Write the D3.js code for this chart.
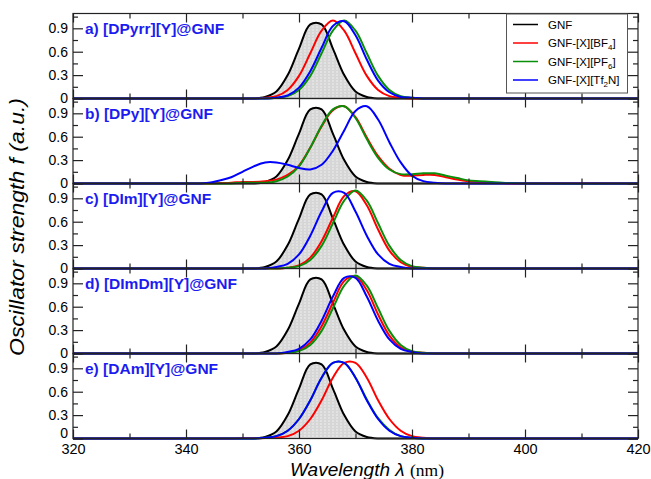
<!DOCTYPE html>
<html>
<head>
<meta charset="utf-8">
<script src="https://cdn.jsdelivr.net/npm/d3@7"></script>
<style>
body { margin: 0; background: #fff; }
text { font-family: "Liberation Sans", Arial, sans-serif; }
</style>
</head>
<body>
<div id="chart"></div>
<script>
// wavelength grid (nm) shared by all curves
var wavelength = [320, 340, 342, 344, 346, 348, 350, 352,
  354, 356, 358, 360, 362, 364, 366, 368, 370, 372, 374, 376, 378, 380,
  382, 384, 386, 388, 390, 392, 394, 396, 398, 400, 420]

var panelLabels = ['a) [DPyrr][Y]@GNF', 'b) [DPy][Y]@GNF', 'c) [DIm][Y]@GNF',
  'd) [DImDm][Y]@GNF', 'e) [DAm][Y]@GNF']
var yTicks = [0, 0.3, 0.6, 0.9]
var xTicks = [320, 340, 360, 380, 400, 420]

// pristine GNF, same in every panel
var gnf = [0, 0, 0, 0, 0, 0, 0, 0,
  .02, .09, .30, .64, .95, .95, .64, .30, .09, .02, 0, 0, 0, 0,
  0, 0, 0, 0, 0, 0, 0, 0, 0, 0, 0]

// a) [DPyrr][Y]@GNF
var bf4_a = [0, 0, 0, 0, 0, 0, 0, 0,
  .01, .03, .11, .29, .58, .87, 1.0, .87, .58, .29, .11, .03, .01, 0,
  0, 0, 0, 0, 0, 0, 0, 0, 0, 0, 0]
var pf6_a = [0, 0, 0, 0, 0, 0, 0, 0,
  0, .01, .03, .11, .29, .58, .87, 1.0, .87, .58, .29, .11, .03, .01,
  0, 0, 0, 0, 0, 0, 0, 0, 0, 0, 0]
var tf2n_a = [0, 0, 0, 0, 0, 0, 0, 0,
  0, .01, .04, .14, .35, .65, .93, .99, .81, .50, .23, .08, .02, .01,
  0, 0, 0, 0, 0, 0, 0, 0, 0, 0, 0]

// b) [DPy][Y]@GNF
var bf4_b = [0, 0, 0, 0, .005, .01, .02, .02,
  .03, .05, .11, .23, .46, .73, .94, .99, .85, .59, .35, .19, .11, .10,
  .11, .11, .08, .05, .03, .02, .01, .005, 0, 0, 0]
var pf6_b = [0, 0, 0, 0, 0, 0, .01, .01,
  .01, .03, .09, .22, .46, .74, .95, .99, .84, .57, .33, .18, .12, .12,
  .13, .13, .10, .07, .04, .03, .02, .01, .005, 0, 0]
var tf2n_b = [0, 0, 0, .01, .04, .08, .15, .22,
  .27, .27, .24, .20, .18, .24, .42, .68, .93, .99, .82, .53, .27, .10,
  .03, .01, 0, 0, 0, 0, 0, 0, 0, 0, 0]

// c) [DIm][Y]@GNF
var bf4_c = [0, 0, 0, 0, 0, 0, 0, 0,
  0, 0, .01, .04, .14, .35, .65, .93, .99, .81, .50, .23, .08, .02,
  .01, 0, 0, 0, 0, 0, 0, 0, 0, 0, 0]
var pf6_c = [0, 0, 0, 0, 0, 0, 0, 0,
  0, 0, .01, .03, .11, .29, .58, .87, 1.0, .87, .58, .29, .11, .03,
  .01, 0, 0, 0, 0, 0, 0, 0, 0, 0, 0]
var tf2n_c = [0, 0, 0, 0, 0, 0, 0, 0,
  0, .02, .06, .18, .42, .73, .97, .97, .73, .42, .18, .06, .02, 0,
  0, 0, 0, 0, 0, 0, 0, 0, 0, 0, 0]

// d) [DImDm][Y]@GNF
var bf4_d = [0, 0, 0, 0, 0, 0, 0, 0,
  0, 0, .01, .04, .14, .35, .65, .93, .99, .81, .50, .23, .08, .02,
  .01, 0, 0, 0, 0, 0, 0, 0, 0, 0, 0]
var pf6_d = [0, 0, 0, 0, 0, 0, 0, 0,
  0, 0, .01, .03, .11, .29, .58, .87, 1.0, .87, .58, .29, .11, .03,
  .01, 0, 0, 0, 0, 0, 0, 0, 0, 0, 0]
var tf2n_d = [0, 0, 0, 0, 0, 0, 0, 0,
  0, 0, .02, .06, .18, .42, .73, .97, .97, .73, .42, .18, .06, .02,
  0, 0, 0, 0, 0, 0, 0, 0, 0, 0, 0]

// e) [DAm][Y]@GNF
var bf4_e = [0, 0, 0, 0, 0, 0, .005, .005,
  .005, .01, .03, .10, .25, .49, .78, .97, .97, .78, .49, .25, .10, .03,
  .01, 0, 0, 0, 0, 0, 0, 0, 0, 0, 0]
var pf6_e = [0, 0, 0, 0, 0, 0, 0, 0,
  .01, .03, .10, .25, .49, .78, .97, .97, .78, .50, .26, .11, .03, .01,
  0, 0, 0, 0, 0, 0, 0, 0, 0, 0, 0]
var tf2n_e = [0, 0, 0, 0, 0, 0, 0, 0,
  .01, .03, .10, .25, .49, .78, .97, .97, .78, .49, .25, .10, .03, .01,
  0, 0, 0, 0, 0, 0, 0, 0, 0, 0, 0]

var panels = [
  [bf4_a, pf6_a, tf2n_a],
  [bf4_b, pf6_b, tf2n_b],
  [bf4_c, pf6_c, tf2n_c],
  [bf4_d, pf6_d, tf2n_d],
  [bf4_e, pf6_e, tf2n_e]
]
var colors = ['#ff0000', '#0a8f0a', '#0000ff']

var width = 651, height = 479
var left = 73, right = 638, top0 = 13.5, panelH = 85

var x = d3.scaleLinear().domain([320, 420]).range([left, right])
var y = d3.scaleLinear().domain([0, 1.09]).range([panelH, 0])

var svg = d3.select('#chart').append('svg')
  .attr('width', width)
  .attr('height', height)

// grey dotted fill under the GNF curve
var pat = svg.append('defs').append('pattern')
  .attr('id', 'greyfill')
  .attr('patternUnits', 'userSpaceOnUse')
  .attr('width', 4).attr('height', 3)
pat.append('rect').attr('width', 4).attr('height', 3).attr('fill', '#d6d6d6')
pat.append('rect').attr('y', 1).attr('width', 2).attr('height', 1).attr('fill', '#ededed')

svg.select('defs').append('clipPath').attr('id', 'clip')
  .append('rect')
  .attr('x', left).attr('y', -2)
  .attr('width', right - left).attr('height', panelH + 4)

var line = d3.line()
  .x(function(d, i) { return x(wavelength[i]) })
  .y(function(d) { return y(d) })
  .curve(d3.curveCatmullRom)

var area = d3.area()
  .x(function(d, i) { return x(wavelength[i]) })
  .y0(y(0))
  .y1(function(d) { return y(d) })
  .curve(d3.curveCatmullRom)

panels.forEach(function(series, k) {
  var g = svg.append('g').attr('transform', 'translate(0,' + (top0 + k * panelH) + ')')
  var plot = g.append('g').attr('clip-path', 'url(#clip)')

  plot.append('path').datum(gnf)
    .attr('d', area)
    .attr('fill', 'url(#greyfill)')
  plot.append('path').datum(gnf)
    .attr('d', line)
    .attr('fill', 'none')
    .attr('stroke', '#000')
    .attr('stroke-width', 2)

  series.forEach(function(s, j) {
    plot.append('path').datum(s)
      .attr('d', line)
      .attr('fill', 'none')
      .attr('stroke', colors[j])
      .attr('stroke-width', 2)
  })

  // frame
  g.append('rect')
    .attr('x', left).attr('y', 0)
    .attr('width', right - left).attr('height', panelH)
    .attr('fill', 'none')
    .attr('stroke', '#222')
    .attr('stroke-width', 1.2)

  // y axes, ticks pointing inwards
  var yl = g.append('g').attr('transform', 'translate(' + left + ',0)')
    .call(d3.axisLeft(y).tickValues(yTicks).tickSize(-10).tickPadding(5)
      .tickFormat(function(d) { return d === 0 ? '0' : d3.format('.1f')(d) }))
  yl.selectAll('text').style('font-size', '14px').attr('fill', '#000')
  if (k === 4) {
    yl.selectAll('text').filter(function(d) { return d === 0 }).attr('dy', '-0.05em')
  }
  g.append('g').attr('transform', 'translate(' + left + ',0)')
    .call(d3.axisLeft(y).tickValues([0.15, 0.45, 0.75, 1.05]).tickSize(-5).tickFormat(''))
  g.append('g').attr('transform', 'translate(' + right + ',0)')
    .call(d3.axisRight(y).tickValues(yTicks).tickSize(-10).tickFormat(''))
  g.append('g').attr('transform', 'translate(' + right + ',0)')
    .call(d3.axisRight(y).tickValues([0.15, 0.45, 0.75, 1.05]).tickSize(-5).tickFormat(''))

  // x axes top and bottom
  var xb = g.append('g').attr('transform', 'translate(0,' + panelH + ')')
    .call(d3.axisBottom(x).tickValues(xTicks).tickSize(-9).tickPadding(5)
      .tickFormat(k === 4 ? d3.format('d') : ''))
  xb.selectAll('text').style('font-size', '14.5px').attr('fill', '#000')
  g.append('g').attr('transform', 'translate(0,' + panelH + ')')
    .call(d3.axisBottom(x).tickValues([330, 350, 370, 390, 410]).tickSize(-5).tickFormat(''))
  g.append('g')
    .call(d3.axisTop(x).tickValues(xTicks).tickSize(-9).tickFormat(''))
  g.append('g')
    .call(d3.axisTop(x).tickValues([330, 350, 370, 390, 410]).tickSize(-5).tickFormat(''))

  g.append('text')
    .attr('x', 85).attr('y', y(0.9) + 5.5)
    .attr('fill', '#1c1cf0')
    .style('font-size', '15.5px')
    .style('font-weight', 'bold')
    .text(panelLabels[k])
})

svg.selectAll('.domain').remove()
svg.selectAll('.tick line').attr('stroke', '#222').attr('stroke-width', 1.2)

// legend
var legendItems = [
  { c: '#000', parts: [['GNF', 0]] },
  { c: colors[0], parts: [['GNF-[X][BF', 0], ['4', 1], [']', 0]] },
  { c: colors[1], parts: [['GNF-[X][PF', 0], ['6', 1], [']', 0]] },
  { c: colors[2], parts: [['GNF-[X][Tf', 0], ['2', 1], ['N]', 0]] }
]
var lg = svg.append('g')
lg.append('rect')
  .attr('x', 506.5).attr('y', 14)
  .attr('width', 121).attr('height', 79)
  .attr('fill', '#fff')
  .attr('stroke', '#555')
  .attr('stroke-width', 1)
legendItems.forEach(function(it, i) {
  var yy = 24.5 + i * 18.5
  lg.append('line')
    .attr('x1', 513).attr('x2', 538)
    .attr('y1', yy).attr('y2', yy)
    .attr('stroke', it.c).attr('stroke-width', 1.5)
  var t = lg.append('text')
    .attr('x', 548).attr('y', yy + 4)
    .style('font-size', '11.5px')
    .attr('fill', '#000')
  it.parts.forEach(function(p) {
    var ts = t.append('tspan').text(p[0])
    if (p[1]) ts.style('font-size', '8px').attr('dy', 3)
    else if (t.selectAll('tspan').size() > 1) ts.attr('dy', -3)
  })
})

// axis titles
svg.append('text')
  .attr('transform', 'translate(24,' + 227 + ') rotate(-90)')
  .attr('text-anchor', 'middle')
  .attr('textLength', 258)
  .attr('lengthAdjust', 'spacingAndGlyphs')
  .style('font-size', '20px')
  .style('font-style', 'italic')
  .text('Oscillator strength f (a.u.)')

var xt = svg.append('text')
  .attr('x', 367)
  .attr('y', 475.5)
  .attr('text-anchor', 'middle')
  .style('font-size', '19px')
xt.append('tspan').style('font-style', 'italic').text('Wavelength λ ')
xt.append('tspan')
  .style('font-family', '"Liberation Serif", "Times New Roman", serif')
  .style('font-size', '17.5px')
  .text('(nm)')
</script>
</body>
</html>
